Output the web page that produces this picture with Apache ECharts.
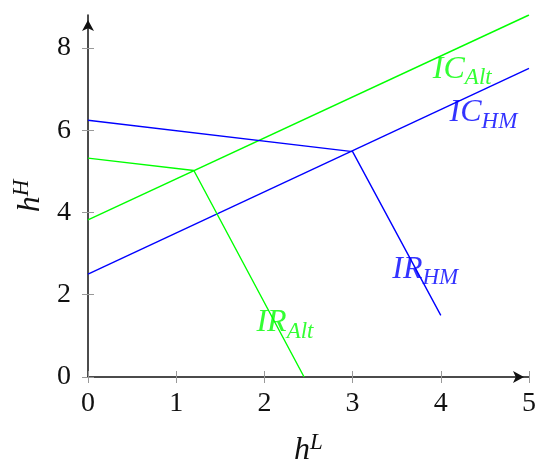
<!DOCTYPE html>
<html>
<head>
<meta charset="utf-8">
<script src="https://cdn.jsdelivr.net/npm/echarts@6/dist/echarts.min.js"></script>
<style>html,body{margin:0;padding:0;background:#fff}#c{width:550px;height:472px}</style>
</head>
<body>
<div id="c"></div>
<script>
// Data
const icAlt = [[0, 3.82], [5, 8.8]];
const icHM = [[0, 2.5], [5, 7.5]];
const irAlt = [[0, 5.32], [1.2, 5.02], [2.45, 0]];
const irHM = [[0, 6.24], [3, 5.48], [4, 1.5]];
const xTicks = [0, 1, 2, 3, 4, 5];
const yTicks = [0, 2, 4, 6, 8];
// label anchors (data coords) and texts
const labelNames = [['IC', 'Alt'], ['IC', 'HM'], ['IR', 'HM'], ['IR', 'Alt']];
const labelAnchors = [[3.91, 7.48], [4.1, 6.42], [3.45, 2.62], [1.91, 1.32]];
const labelColors = ['#00ff00', '#0000ff', '#0000ff', '#00ff00'];

const FONT = 'Liberation Serif';
const chart = echarts.init(document.getElementById('c'), null, {renderer: 'canvas'});

const baseAxisLabel = {fontFamily: FONT, fontSize: 28, color: '#111'};
const richLbl = (col) => ({
  i: {fontFamily: FONT, fontStyle: 'italic', fontSize: 32, color: col},
  s: {fontFamily: FONT, fontStyle: 'italic', fontSize: 23, color: col, padding: [18, 0, 0, 0]}
});

const labelSeries = labelNames.map((nm, k) => ({
  type: 'scatter',
  symbolSize: 0,
  silent: true,
  data: [labelAnchors[k]],
  label: {
    show: true,
    position: 'right',
    distance: 0,
    formatter: '{i|' + nm[0] + '}{s|' + nm[1] + '}',
    rich: richLbl(labelColors[k])
  },
  z: 5
}));

const lineSeries = [
  {data: icAlt, color: '#00ff00'},
  {data: icHM, color: '#0000ff'},
  {data: irAlt, color: '#00ff00'},
  {data: irHM, color: '#0000ff'}
].map(s => ({
  type: 'line',
  data: s.data,
  showSymbol: false,
  symbol: 'none',
  lineStyle: {color: s.color, width: 1.4},
  animation: false
}));

const nameRich = {
  h: {fontFamily: FONT, fontStyle: 'italic', fontSize: 32, color: '#111'},
  sup: {fontFamily: FONT, fontStyle: 'italic', fontSize: 23, color: '#111', padding: [0, 0, 16, 0]}
};

chart.setOption({
  animation: false,
  grid: {left: 88, right: 21, top: 15, bottom: 95, containLabel: false, outerBoundsMode: 'none'},
  xAxis: [{
    type: 'value', min: 0, max: 5, interval: 1,
    name: '{h|h}{sup|L}', nameLocation: 'middle', nameGap: 54,
    nameTextStyle: {rich: nameRich},
    axisLine: {show: true, lineStyle: {color: '#111', width: 1.5}, symbol: ['none', 'arrow'], symbolSize: [9, 11], symbolOffset: [0, -5]},
    axisTick: {show: true, length: 6, lineStyle: {color: '#999'}, customValues: xTicks},
    axisLabel: Object.assign({margin: 13, customValues: xTicks}, baseAxisLabel),
    splitLine: {show: false}
  }, {
    type: 'value', min: 0, max: 5, interval: 1, position: 'bottom',
    axisLine: {show: false},
    axisTick: {show: true, inside: true, length: 6, lineStyle: {color: '#999'}, customValues: xTicks},
    axisLabel: {show: false},
    splitLine: {show: false}
  }],
  yAxis: [{
    type: 'value', min: 0, max: 8.8,
    name: '{h|h}{sup|H}', nameLocation: 'middle', nameGap: 38,
    nameTextStyle: {rich: nameRich},
    axisLine: {show: true, lineStyle: {color: '#111', width: 1.5}, symbol: ['none', 'arrow'], symbolSize: [9, 11], symbolOffset: [0, -5]},
    axisTick: {show: true, length: 6, lineStyle: {color: '#999'}, customValues: yTicks},
    axisLabel: Object.assign({margin: 17, customValues: yTicks}, baseAxisLabel),
    splitLine: {show: false}
  }, {
    type: 'value', min: 0, max: 8.8, position: 'left',
    axisLine: {show: false},
    axisTick: {show: true, inside: true, length: 6, lineStyle: {color: '#999'}, customValues: yTicks},
    axisLabel: {show: false},
    splitLine: {show: false}
  }],
  series: lineSeries.concat(labelSeries)
});
</script>
</body>
</html>
